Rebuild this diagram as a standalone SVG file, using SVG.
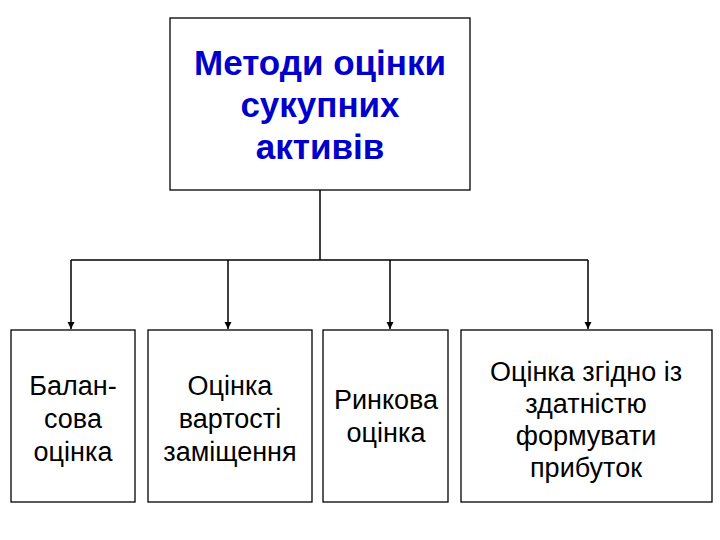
<svg xmlns="http://www.w3.org/2000/svg" width="720" height="540" viewBox="0 0 720 540">
<defs>
<marker id="arr" markerWidth="8" markerHeight="8" refX="7" refY="4" orient="auto" markerUnits="userSpaceOnUse">
<path d="M0,0.5 L7,4 L0,7.5 Z" fill="#000"/>
</marker>
<style>
.box{fill:#fff;stroke:#000;stroke-width:1.3}
.t{font-family:"Liberation Sans",Arial,sans-serif;font-size:27px;fill:#000;text-anchor:middle}
.h{font-family:"Liberation Sans",Arial,sans-serif;font-size:35px;font-weight:bold;fill:#0000cc;text-anchor:middle}
.c{fill:none;stroke:#000;stroke-width:1.5}
</style>
</defs>
<rect width="720" height="540" fill="#fff"/>
<g id="connectors">
<path class="c" d="M320,190 V260 M71,260 H588"/>
<path class="c" d="M71,260 V329" marker-end="url(#arr)"/>
<path class="c" d="M228,260 V329" marker-end="url(#arr)"/>
<path class="c" d="M390,260 V329" marker-end="url(#arr)"/>
<path class="c" d="M588,260 V329" marker-end="url(#arr)"/>
</g>
<g id="root">
<rect class="box" x="170" y="18" width="300" height="172"/>
<text class="h" x="320" y="75">Методи оцінки</text>
<text class="h" x="320" y="117">сукупних</text>
<text class="h" x="320" y="159">активів</text>
</g>
<g id="n1">
<rect class="box" x="11" y="330" width="124" height="172"/>
<text class="t" x="73" y="395">Балан-</text>
<text class="t" x="73" y="428">сова</text>
<text class="t" x="73" y="461">оцінка</text>
</g>
<g id="n2">
<rect class="box" x="148" y="330" width="164" height="172"/>
<text class="t" x="230" y="395">Оцінка</text>
<text class="t" x="230" y="428">вартості</text>
<text class="t" x="230" y="461">заміщення</text>
</g>
<g id="n3">
<rect class="box" x="323" y="330" width="125" height="172"/>
<text class="t" x="386" y="409">Ринкова</text>
<text class="t" x="386" y="442">оцінка</text>
</g>
<g id="n4">
<rect class="box" x="461" y="330" width="251" height="172"/>
<text class="t" x="586" y="381">Оцінка згідно із</text>
<text class="t" x="586" y="413">здатністю</text>
<text class="t" x="586" y="445">формувати</text>
<text class="t" x="586" y="477">прибуток</text>
</g>
</svg>
